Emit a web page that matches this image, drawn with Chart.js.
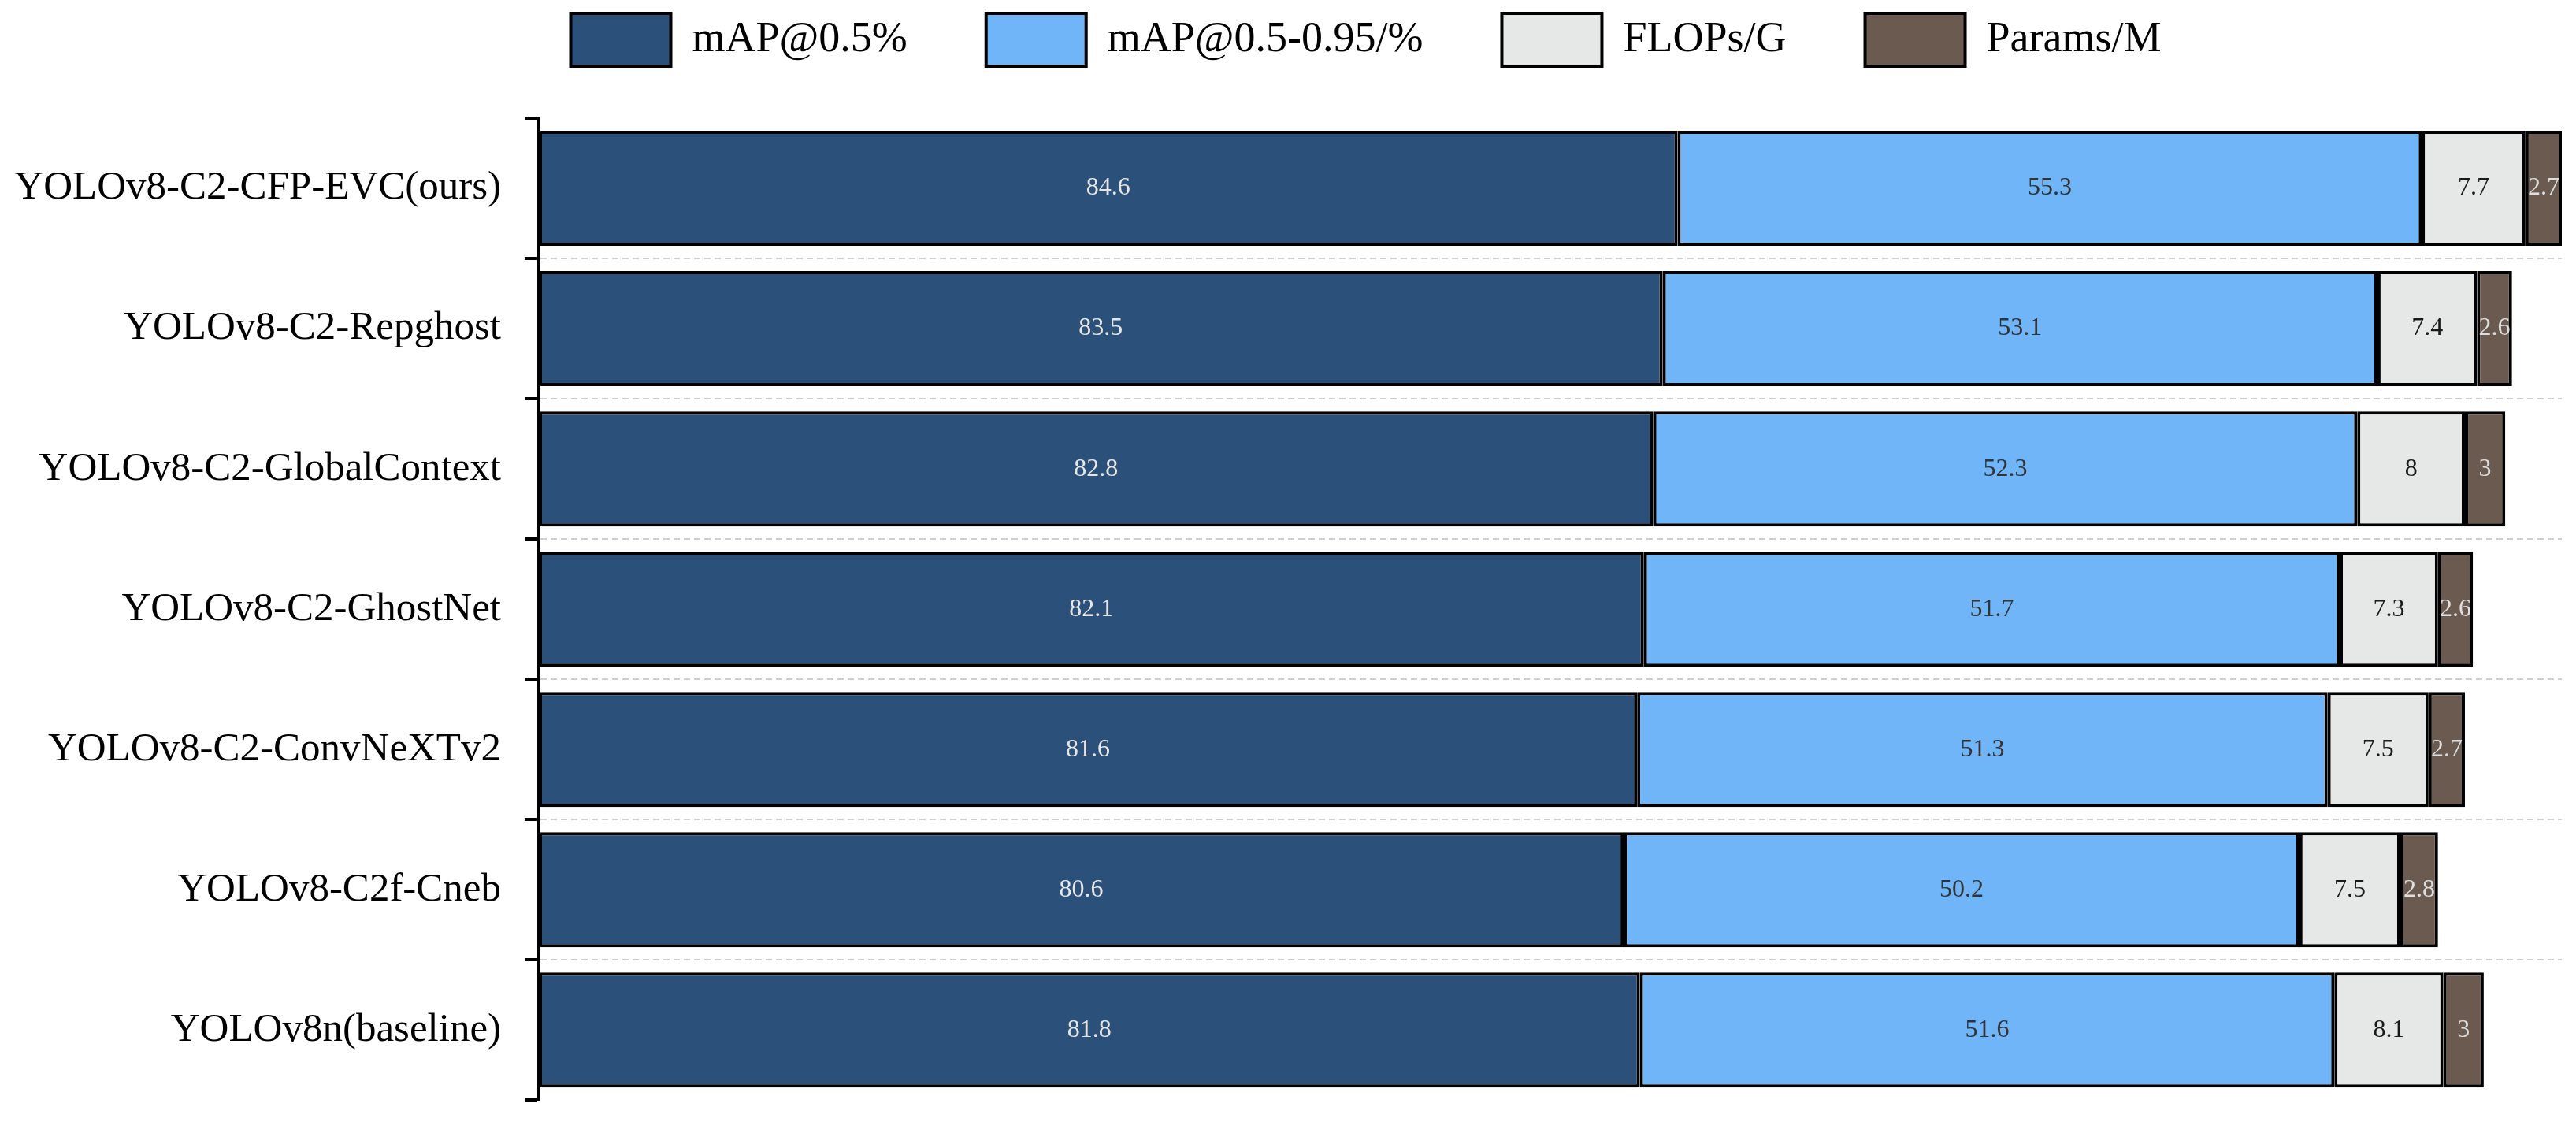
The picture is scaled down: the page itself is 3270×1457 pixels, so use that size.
<!DOCTYPE html>
<html>
<head>
<meta charset="utf-8">
<script src="https://cdn.jsdelivr.net/npm/chart.js@4.4.1/dist/chart.umd.min.js"></script>
<style>
  html, body { margin:0; padding:0; background:#fff; }
  canvas { display:block; }
</style>
</head>
<body>
<canvas id="stackChart" width="3270" height="1457"></canvas>
<script>
// model names, top to bottom
const models = [
  'YOLOv8-C2-CFP-EVC(ours)',
  'YOLOv8-C2-Repghost',
  'YOLOv8-C2-GlobalContext',
  'YOLOv8-C2-GhostNet',
  'YOLOv8-C2-ConvNeXTv2',
  'YOLOv8-C2f-Cneb',
  'YOLOv8n(baseline)'
];
const seriesNames = ['mAP@0.5%', 'mAP@0.5-0.95/%', 'FLOPs/G', 'Params/M'];
const map50   = [84.6, 83.5, 82.8, 82.1, 81.6, 80.6, 81.8];
const map5095 = [55.3, 53.1, 52.3, 51.7, 51.3, 50.2, 51.6];
const flops   = [7.7, 7.4, 8, 7.3, 7.5, 7.5, 8.1];
const params  = [2.7, 2.6, 3, 2.6, 2.7, 2.8, 3];

const fills = ['#2B5079', '#70B5F7', '#E6E7E7', '#6A5A4F'];
const labelInk = ['#e6e6e6', '#333333', '#1a1a1a', '#dedede'];
const serif = '"Liberation Serif", "DejaVu Serif", serif';

const LEGEND_SHIFT = 108; // legend sits right of centre in the original
const AXIS_X = 684;       // where the y axis sits

// the top bar fills the plot width
const totals = models.map((_, i) => map50[i] + map5095[i] + flops[i] + params[i]);
const xMax = Math.max(...totals);

// push plot area down below the legend, and nudge legend right
const legendTweak = {
  id: 'legendTweak',
  beforeInit(chart){
    const fit = chart.legend.fit;
    chart.legend.fit = function(){ fit.call(this); this.height += 56; };
  },
  afterLayout(chart){
    chart.legend.left += LEGEND_SHIFT;
    chart.legend.right += LEGEND_SHIFT;
  }
};

// value text in the middle of each segment, clipped to plot area
const segLabels = {
  id: 'segLabels',
  afterDatasetsDraw(chart){
    const {ctx, chartArea} = chart;
    ctx.save();
    ctx.beginPath();
    ctx.rect(chartArea.left, chartArea.top, chartArea.width, chartArea.height);
    ctx.clip();
    ctx.font = '32px ' + serif;
    ctx.textAlign = 'center';
    ctx.textBaseline = 'middle';
    chart.data.datasets.forEach((ds, i) => {
      chart.getDatasetMeta(i).data.forEach((bar, j) => {
        ctx.fillStyle = labelInk[i];
        ctx.fillText(String(ds.data[j]), (bar.x + bar.base) / 2, bar.y);
      });
    });
    ctx.restore();
  }
};

const seriesData = [map50, map5095, flops, params];

new Chart(document.getElementById('stackChart').getContext('2d'), {
  type: 'bar',
  data: {
    labels: models,
    datasets: seriesData.map((d, i) => ({
      label: seriesNames[i],
      data: d,
      backgroundColor: fills[i],
      borderColor: '#000',
      borderWidth: 4,
      borderSkipped: false,
      barPercentage: 0.82,
      categoryPercentage: 1
    }))
  },
  options: {
    indexAxis: 'y',
    responsive: false,
    animation: false,
    layout: { padding: { left: 0, right: 18, top: -83, bottom: 22 } },
    plugins: {
      legend: {
        position: 'top',
        labels: {
          boxWidth: 127,
          boxHeight: 67,
          padding: 100,
          color: '#000',
          font: { family: serif, size: 54 }
        }
      },
      tooltip: { enabled: false }
    },
    scales: {
      x: { stacked: true, min: 0, max: xMax, display: false },
      y: {
        stacked: true,
        afterFit(scale){ scale.width = AXIS_X; },
        border: { display: true, color: '#000', width: 4, dash: [8, 5] },
        grid: {
          offset: true,
          color: c => (c.type === 'tick' && c.index > 0) ? '#cfcfcf' : 'rgba(0,0,0,0)',
          lineWidth: 2,
          tickColor: '#000',
          tickWidth: 4,
          tickLength: 18,
          tickBorderDash: []
        },
        ticks: { color: '#000', padding: 30, font: { family: serif, size: 51 } }
      }
    }
  },
  plugins: [legendTweak, segLabels]
});
</script>
</body>
</html>
